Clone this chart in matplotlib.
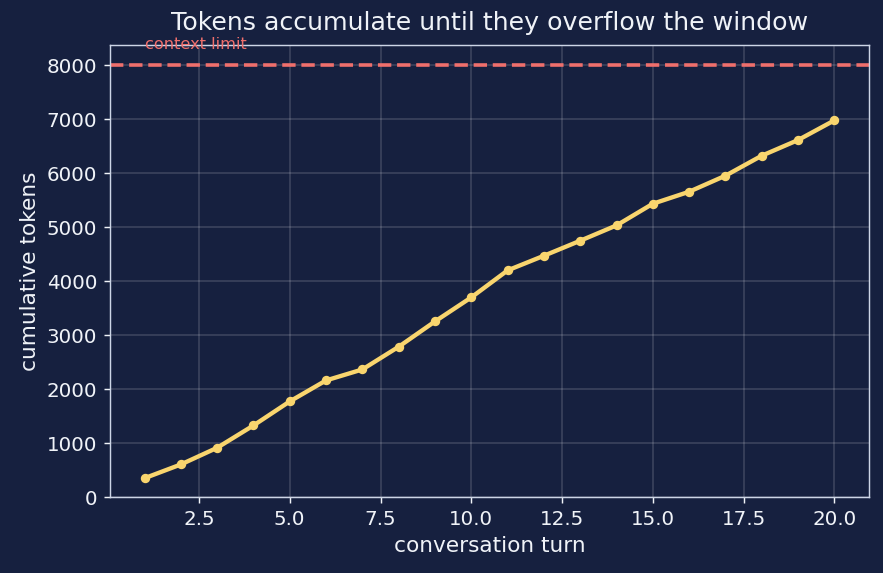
import matplotlib
matplotlib.use("Agg")
import matplotlib.pyplot as plt

turns = list(range(1, 21))
tokens = [357, 611, 920, 1333, 1778, 2167, 2370, 2790, 3259, 3704,
          4204, 4475, 4753, 5037, 5438, 5660, 5957, 6327, 6617, 6981]
context_limit = 8000

BG = "#16203f"
FG = "#f0f3f8"

plt.rcParams["font.family"] = ["DejaVu Sans"]

fig = plt.figure(figsize=(883 / 130, 573 / 130), dpi=130, facecolor=BG)
ax = fig.add_axes([0.1246, 0.1318, 0.8594, 0.7902])
ax.set_facecolor(BG)

ax.plot(turns, tokens, color="#f9d56e", linewidth=2.4, marker="o", markersize=4.2)
ax.axhline(context_limit, color="#ef6f6c", linestyle="--", linewidth=2)
ax.text(1, context_limit + 250, "context limit", color="#ef6f6c", fontsize=9, va="bottom")
ax.set_ylim(bottom=0)

ax.grid(True, color="white", alpha=0.15, linewidth=1)
ax.set_axisbelow(True)
for s in ax.spines.values():
    s.set_color("#cdd5e6")
ax.tick_params(colors=FG, labelsize=11)
ax.set_xlabel("conversation turn", color=FG, fontsize=12)
ax.set_ylabel("cumulative tokens", color=FG, fontsize=12)
ax.set_title("Tokens accumulate until they overflow the window", color=FG, fontsize=14, pad=8)

fig.savefig("out.png", dpi=130, facecolor=BG)
